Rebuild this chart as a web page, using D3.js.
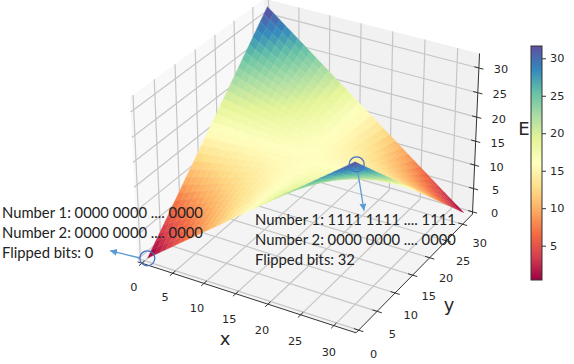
<!DOCTYPE html>
<html>
<head>
<meta charset="utf-8">
<script src="https://cdn.jsdelivr.net/npm/d3@7"></script>
<style>
  html, body { margin: 0; padding: 0; background: #fff; }
  svg { display: block; }
  text { font-family: "DejaVu Sans", sans-serif; fill: #262626; }
  .note { font-family: Lato, sans-serif; font-size: 14.8px; fill: #222; }
</style>
</head>
<body>
<svg id="chart" width="574" height="364"></svg>
<script>
const xValues = [0.3,1.3,2.3,3.3,4.3,5.3,6.3,7.3,8.3,9.3,10.3,11.3,12.3,13.3,14.3,15.3,16.3,17.3,18.3,19.3,20.3,21.3,22.3,23.3,24.3,25.3,26.3,27.3,28.3,29.3,30.3,31.3,32.3];
const yValues = [0.3,1.3,2.3,3.3,4.3,5.3,6.3,7.3,8.3,9.3,10.3,11.3,12.3,13.3,14.3,15.3,16.3,17.3,18.3,19.3,20.3,21.3,22.3,23.3,24.3,25.3,26.3,27.3,28.3,29.3,30.3,31.3,32.3];
// one row per y value, E
const eValues = [
  [0,1,2,3,4,5,6,7,8,9,10,11,12,13,14,15,16,17,18,19,20,21,22,23,24,25,26,27,28,29,30,31,32],
  [1,1.9,2.9,3.8,4.8,5.7,6.6,7.6,8.5,9.4,10.4,11.3,12.3,13.2,14.1,15.1,16,16.9,17.9,18.8,19.8,20.7,21.6,22.6,23.5,24.4,25.4,26.3,27.3,28.2,29.1,30.1,31],
  [2,2.9,3.8,4.6,5.5,6.4,7.3,8.1,9,9.9,10.8,11.6,12.5,13.4,14.3,15.1,16,16.9,17.8,18.6,19.5,20.4,21.3,22.1,23,23.9,24.8,25.6,26.5,27.4,28.3,29.1,30],
  [3,3.8,4.6,5.4,6.3,7.1,7.9,8.7,9.5,10.3,11.1,11.9,12.8,13.6,14.4,15.2,16,16.8,17.6,18.4,19.3,20.1,20.9,21.7,22.5,23.3,24.1,24.9,25.8,26.6,27.4,28.2,29],
  [4,4.8,5.5,6.3,7,7.8,8.5,9.3,10,10.8,11.5,12.3,13,13.8,14.5,15.3,16,16.8,17.5,18.3,19,19.8,20.5,21.3,22,22.8,23.5,24.3,25,25.8,26.5,27.3,28],
  [5,5.7,6.4,7.1,7.8,8.4,9.1,9.8,10.5,11.2,11.9,12.6,13.3,13.9,14.6,15.3,16,16.7,17.4,18.1,18.8,19.4,20.1,20.8,21.5,22.2,22.9,23.6,24.3,24.9,25.6,26.3,27],
  [6,6.6,7.3,7.9,8.5,9.1,9.8,10.4,11,11.6,12.3,12.9,13.5,14.1,14.8,15.4,16,16.6,17.3,17.9,18.5,19.1,19.8,20.4,21,21.6,22.3,22.9,23.5,24.1,24.8,25.4,26],
  [7,7.6,8.1,8.7,9.3,9.8,10.4,10.9,11.5,12.1,12.6,13.2,13.8,14.3,14.9,15.4,16,16.6,17.1,17.7,18.3,18.8,19.4,19.9,20.5,21.1,21.6,22.2,22.8,23.3,23.9,24.4,25],
  [8,8.5,9,9.5,10,10.5,11,11.5,12,12.5,13,13.5,14,14.5,15,15.5,16,16.5,17,17.5,18,18.5,19,19.5,20,20.5,21,21.5,22,22.5,23,23.5,24],
  [9,9.4,9.9,10.3,10.8,11.2,11.6,12.1,12.5,12.9,13.4,13.8,14.3,14.7,15.1,15.6,16,16.4,16.9,17.3,17.8,18.2,18.6,19.1,19.5,19.9,20.4,20.8,21.3,21.7,22.1,22.6,23],
  [10,10.4,10.8,11.1,11.5,11.9,12.3,12.6,13,13.4,13.8,14.1,14.5,14.9,15.3,15.6,16,16.4,16.8,17.1,17.5,17.9,18.3,18.6,19,19.4,19.8,20.1,20.5,20.9,21.3,21.6,22],
  [11,11.3,11.6,11.9,12.3,12.6,12.9,13.2,13.5,13.8,14.1,14.4,14.8,15.1,15.4,15.7,16,16.3,16.6,16.9,17.3,17.6,17.9,18.2,18.5,18.8,19.1,19.4,19.8,20.1,20.4,20.7,21],
  [12,12.3,12.5,12.8,13,13.3,13.5,13.8,14,14.3,14.5,14.8,15,15.3,15.5,15.8,16,16.3,16.5,16.8,17,17.3,17.5,17.8,18,18.3,18.5,18.8,19,19.3,19.5,19.8,20],
  [13,13.2,13.4,13.6,13.8,13.9,14.1,14.3,14.5,14.7,14.9,15.1,15.3,15.4,15.6,15.8,16,16.2,16.4,16.6,16.8,16.9,17.1,17.3,17.5,17.7,17.9,18.1,18.3,18.4,18.6,18.8,19],
  [14,14.1,14.3,14.4,14.5,14.6,14.8,14.9,15,15.1,15.3,15.4,15.5,15.6,15.8,15.9,16,16.1,16.3,16.4,16.5,16.6,16.8,16.9,17,17.1,17.3,17.4,17.5,17.6,17.8,17.9,18],
  [15,15.1,15.1,15.2,15.3,15.3,15.4,15.4,15.5,15.6,15.6,15.7,15.8,15.8,15.9,15.9,16,16.1,16.1,16.2,16.3,16.3,16.4,16.4,16.5,16.6,16.6,16.7,16.8,16.8,16.9,16.9,17],
  [16,16,16,16,16,16,16,16,16,16,16,16,16,16,16,16,16,16,16,16,16,16,16,16,16,16,16,16,16,16,16,16,16],
  [17,16.9,16.9,16.8,16.7,16.7,16.6,16.6,16.5,16.4,16.4,16.3,16.2,16.2,16.1,16.1,16,15.9,15.9,15.8,15.7,15.7,15.6,15.6,15.5,15.4,15.4,15.3,15.2,15.2,15.1,15.1,15],
  [18,17.9,17.7,17.6,17.5,17.4,17.2,17.1,17,16.9,16.7,16.6,16.5,16.4,16.2,16.1,16,15.9,15.7,15.6,15.5,15.4,15.2,15.1,15,14.9,14.7,14.6,14.5,14.4,14.2,14.1,14],
  [19,18.8,18.6,18.4,18.2,18.1,17.9,17.7,17.5,17.3,17.1,16.9,16.7,16.6,16.4,16.2,16,15.8,15.6,15.4,15.2,15.1,14.9,14.7,14.5,14.3,14.1,13.9,13.7,13.6,13.4,13.2,13],
  [20,19.7,19.5,19.2,19,18.7,18.5,18.2,18,17.7,17.5,17.2,17,16.7,16.5,16.2,16,15.7,15.5,15.2,15,14.7,14.5,14.2,14,13.7,13.5,13.2,13,12.7,12.5,12.2,12],
  [21,20.7,20.4,20.1,19.7,19.4,19.1,18.8,18.5,18.2,17.9,17.6,17.2,16.9,16.6,16.3,16,15.7,15.4,15.1,14.7,14.4,14.1,13.8,13.5,13.2,12.9,12.6,12.2,11.9,11.6,11.3,11],
  [22,21.6,21.2,20.9,20.5,20.1,19.7,19.4,19,18.6,18.2,17.9,17.5,17.1,16.7,16.4,16,15.6,15.2,14.9,14.5,14.1,13.7,13.4,13,12.6,12.2,11.9,11.5,11.1,10.7,10.4,10],
  [23,22.6,22.1,21.7,21.2,20.8,20.4,19.9,19.5,19.1,18.6,18.2,17.7,17.3,16.9,16.4,16,15.6,15.1,14.7,14.2,13.8,13.4,12.9,12.5,12.1,11.6,11.2,10.7,10.3,9.9,9.4,9],
  [24,23.5,23,22.5,22,21.5,21,20.5,20,19.5,19,18.5,18,17.5,17,16.5,16,15.5,15,14.5,14,13.5,13,12.5,12,11.5,11,10.5,10,9.5,9,8.5,8],
  [25,24.4,23.9,23.3,22.7,22.2,21.6,21.1,20.5,19.9,19.4,18.8,18.2,17.7,17.1,16.6,16,15.4,14.9,14.3,13.7,13.2,12.6,12.1,11.5,10.9,10.4,9.8,9.2,8.7,8.1,7.6,7],
  [26,25.4,24.7,24.1,23.5,22.9,22.2,21.6,21,20.4,19.7,19.1,18.5,17.9,17.2,16.6,16,15.4,14.7,14.1,13.5,12.9,12.2,11.6,11,10.4,9.7,9.1,8.5,7.9,7.2,6.6,6],
  [27,26.3,25.6,24.9,24.2,23.6,22.9,22.2,21.5,20.8,20.1,19.4,18.7,18.1,17.4,16.7,16,15.3,14.6,13.9,13.2,12.6,11.9,11.2,10.5,9.8,9.1,8.4,7.7,7.1,6.4,5.7,5],
  [28,27.2,26.5,25.7,25,24.2,23.5,22.7,22,21.2,20.5,19.7,19,18.2,17.5,16.7,16,15.2,14.5,13.7,13,12.2,11.5,10.7,10,9.2,8.5,7.7,7,6.2,5.5,4.7,4],
  [29,28.2,27.4,26.6,25.7,24.9,24.1,23.3,22.5,21.7,20.9,20.1,19.2,18.4,17.6,16.8,16,15.2,14.4,13.6,12.7,11.9,11.1,10.3,9.5,8.7,7.9,7.1,6.2,5.4,4.6,3.8,3],
  [30,29.1,28.2,27.4,26.5,25.6,24.7,23.9,23,22.1,21.2,20.4,19.5,18.6,17.7,16.9,16,15.1,14.2,13.4,12.5,11.6,10.7,9.9,9,8.1,7.2,6.4,5.5,4.6,3.7,2.9,2],
  [31,30.1,29.1,28.2,27.2,26.3,25.4,24.4,23.5,22.6,21.6,20.7,19.7,18.8,17.9,16.9,16,15.1,14.1,13.2,12.2,11.3,10.4,9.4,8.5,7.6,6.6,5.7,4.7,3.8,2.9,1.9,1],
  [32,31,30,29,28,27,26,25,24,23,22,21,20,19,18,17,16,15,14,13,12,11,10,9,8,7,6,5,4,3,2,1,0]
];
const axisTicks = [0, 5, 10, 15, 20, 25, 30];
const colorbarTicks = [5, 10, 15, 20, 25, 30];
const spectral = ["#9e0142","#d53e4f","#f46d43","#fdae61","#fee08b","#ffffbf","#e6f598","#abdda4","#66c2a5","#3288bd","#5e4fa2"];
const colorRange = [0.42, 31.64];
const leftNote = ["Number 1: 0000 0000 .... 0000", "Number 2: 0000 0000 .... 0000", "Flipped bits: 0"];
const rightNote = ["Number 1: 1111 1111 .... 1111", "Number 2: 0000 0000 .... 0000", "Flipped bits: 32"];

const svg = d3.select("#chart");

// pane extents in data units
const xLim = [-0.7, 33.3], yLim = [-0.7, 33.1], zLim = [-0.5, 32.9];
const box = [1.143, 1.143, 0.857];
const dist = 10;
const elev = 30 * Math.PI / 180, azim = -60 * Math.PI / 180;

const boxX = d3.scaleLinear().domain(xLim).range([-box[0] / 2, box[0] / 2]);
const boxY = d3.scaleLinear().domain(yLim).range([-box[1] / 2, box[1] / 2]);
const boxZ = d3.scaleLinear().domain(zLim).range([-box[2] / 2, box[2] / 2]);
const screenX = d3.scaleLinear().domain([-1, 1]).range([308 - 219, 308 + 219]);
const screenY = d3.scaleLinear().domain([-1, 1]).range([158 + 219, 158 - 219]);

const dir = [Math.cos(elev) * Math.cos(azim), Math.cos(elev) * Math.sin(azim), Math.sin(elev)];
const right = [-Math.sin(azim), Math.cos(azim), 0];
const up = [-Math.sin(elev) * Math.cos(azim), -Math.sin(elev) * Math.sin(azim), Math.cos(elev)];
const dot = (a, b) => a[0] * b[0] + a[1] * b[1] + a[2] * b[2];

// same view maths as mplot3d, returns screen x, y and distance from the eye
function project(x, y, z) {
  const p = [boxX(x), boxY(y), boxZ(z)];
  const depth = dist - dot(dir, p);
  const k = dist / depth;
  return [screenX(dot(right, p) * k), screenY(dot(up, p) * k), depth];
}

const line = d3.line();
function segment(a, b) {
  return line([project(...a).slice(0, 2), project(...b).slice(0, 2)]);
}
function polygon(points) {
  return line(points.map(p => project(...p).slice(0, 2))) + "Z";
}

// panes
const [x0, x1] = xLim, [y0, y1] = yLim, [z0, z1] = zLim;
const panes = [
  { fill: "#f8f8f8", pts: [[x0,y0,z0],[x0,y1,z0],[x0,y1,z1],[x0,y0,z1]] },
  { fill: "#f1f1f1", pts: [[x0,y1,z0],[x1,y1,z0],[x1,y1,z1],[x0,y1,z1]] },
  { fill: "#f4f4f4", pts: [[x0,y0,z0],[x1,y0,z0],[x1,y1,z0],[x0,y1,z0]] }
];
svg.append("g").selectAll("path").data(panes).join("path")
  .attr("d", d => polygon(d.pts))
  .attr("fill", d => d.fill);

// grid lines on the panes
const gridLines = [];
axisTicks.forEach(t => {
  gridLines.push([[t,y0,z0],[t,y1,z0]], [[t,y1,z0],[t,y1,z1]]);
  gridLines.push([[x0,t,z0],[x1,t,z0]], [[x0,t,z0],[x0,t,z1]]);
  gridLines.push([[x0,y0,t],[x0,y1,t]], [[x0,y1,t],[x1,y1,t]]);
});
svg.append("g").selectAll("path").data(gridLines).join("path")
  .attr("d", d => segment(d[0], d[1]))
  .attr("fill", "none")
  .attr("stroke", "#c6c6c6")
  .attr("stroke-width", 1.2);

// surface, facets painted far to near
const color = d3.scaleLinear()
  .domain(spectral.map((c, i) => colorRange[0] + (colorRange[1] - colorRange[0]) * i / (spectral.length - 1)))
  .range(spectral)
  .clamp(true);

const facets = [];
for (let j = 0; j < yValues.length - 1; j++) {
  for (let i = 0; i < xValues.length - 1; i++) {
    const pts = [
      [xValues[i], yValues[j], eValues[j][i]],
      [xValues[i + 1], yValues[j], eValues[j][i + 1]],
      [xValues[i + 1], yValues[j + 1], eValues[j + 1][i + 1]],
      [xValues[i], yValues[j + 1], eValues[j + 1][i]]
    ];
    facets.push({
      pts,
      e: d3.mean(pts, p => p[2]),
      depth: d3.mean(pts, p => project(...p)[2])
    });
  }
}
facets.sort((a, b) => b.depth - a.depth);
svg.append("g").selectAll("path").data(facets).join("path")
  .attr("d", d => polygon(d.pts))
  .attr("fill", d => color(d.e))
  .attr("stroke", d => color(d.e))
  .attr("stroke-width", 0.4);

// axis lines and tick marks
const axisLines = [
  [[x0,y0,z0],[x1,y0,z0]],
  [[x1,y0,z0],[x1,y1,z0]],
  [[x1,y1,z0],[x1,y1,z1]]
];
const tickLen = 0.7;
axisTicks.forEach(t => {
  axisLines.push([[t,y0 - tickLen,z0],[t,y0 + tickLen,z0]]);
  axisLines.push([[x1 - tickLen,t,z0],[x1 + tickLen,t,z0]]);
  axisLines.push([[x1 - tickLen,y1,t],[x1 + tickLen,y1,t]]);
});
svg.append("g").selectAll("path").data(axisLines).join("path")
  .attr("d", d => segment(d[0], d[1]))
  .attr("fill", "none")
  .attr("stroke", "#333")
  .attr("stroke-width", 1);

// tick labels sit a small pixel offset from their tick, drifting along the axis
function tickLabels(pos, dx, dy) {
  svg.append("g").selectAll("text").data(axisTicks).join("text")
    .attr("x", t => pos(t)[0] + dx(t))
    .attr("y", t => pos(t)[1] + dy(t))
    .attr("text-anchor", "middle")
    .attr("dominant-baseline", "central")
    .attr("font-size", 11.3)
    .text(t => t);
}
tickLabels(t => project(t, y0, z0), t => -8 + t * 0.1, t => 24 + t * 0.1);
tickLabels(t => project(x1, t, z0), t => 15 + t * 0.07, t => 24 - t * 0.15);
tickLabels(t => project(x1, y1, t), t => 22, t => 2);

const axisTitles = [
  { label: "x", x: 225, y: 338 },
  { label: "y", x: 449, y: 304 },
  { label: "E", x: 524, y: 128 }
];
svg.append("g").selectAll("text").data(axisTitles).join("text")
  .attr("x", d => d.x)
  .attr("y", d => d.y)
  .attr("text-anchor", "middle")
  .attr("dominant-baseline", "central")
  .attr("font-size", 18)
  .text(d => d.label);

// colorbar
const barScale = d3.scaleLinear().domain(colorRange).range([280, 46]);
const gradient = svg.append("defs").append("linearGradient")
  .attr("id", "spectral")
  .attr("x1", 0).attr("x2", 0).attr("y1", 1).attr("y2", 0);
gradient.selectAll("stop").data(spectral).join("stop")
  .attr("offset", (d, i) => i / (spectral.length - 1))
  .attr("stop-color", d => d);
svg.append("rect")
  .attr("x", 531).attr("y", 46)
  .attr("width", 11).attr("height", 234)
  .attr("fill", "url(#spectral)")
  .attr("stroke", "#333");
const barAxis = svg.append("g")
  .attr("transform", "translate(542,0)")
  .call(d3.axisRight(barScale).tickValues(colorbarTicks).tickSize(4).tickPadding(4));
barAxis.select(".domain").remove();
barAxis.selectAll("line").attr("stroke", "#333");
barAxis.selectAll("text").attr("font-size", 11.3).attr("font-family", "DejaVu Sans").attr("fill", "#262626");

// annotations
function note(lines, x, y) {
  svg.append("g").selectAll("text").data(lines).join("text")
    .attr("class", "note")
    .attr("x", x)
    .attr("y", (d, i) => y + i * 20)
    .attr("dominant-baseline", "central")
    .text(d => d);
}
note(leftNote, 2, 212);
note(rightNote, 255, 219);

const marks = [
  { cx: 147.3, cy: 258.3, x1: 140, y1: 258, x2: 110, y2: 250.7 },
  { cx: 356.7, cy: 164.3, x1: 358, y1: 173, x2: 364, y2: 210.7 }
];
svg.select("defs").append("marker")
  .attr("id", "head")
  .attr("viewBox", "0 0 10 10")
  .attr("refX", 10).attr("refY", 5)
  .attr("markerUnits", "userSpaceOnUse")
  .attr("markerWidth", 7).attr("markerHeight", 7)
  .attr("orient", "auto")
  .append("path")
  .attr("d", "M0,0L10,5L0,10Z")
  .attr("fill", "#5b9bd5");
svg.append("g").selectAll("line").data(marks).join("line")
  .attr("x1", d => d.x1).attr("y1", d => d.y1)
  .attr("x2", d => d.x2).attr("y2", d => d.y2)
  .attr("stroke", "#5b9bd5")
  .attr("stroke-width", 1.3)
  .attr("marker-end", "url(#head)");
svg.append("g").selectAll("circle").data(marks).join("circle")
  .attr("cx", d => d.cx).attr("cy", d => d.cy)
  .attr("r", 7.5)
  .attr("fill", "none")
  .attr("stroke", "#4472c4")
  .attr("stroke-width", 1.3);
</script>
</body>
</html>
